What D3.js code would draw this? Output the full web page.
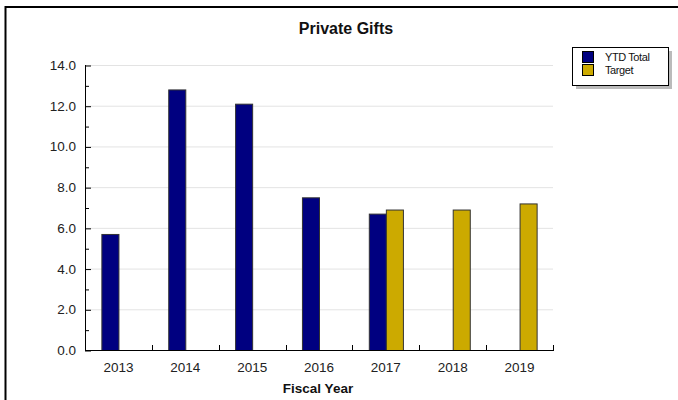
<!DOCTYPE html>
<html><head><meta charset="utf-8">
<script src="https://cdn.jsdelivr.net/npm/d3@7"></script>
<style>body{margin:0;background:#fff}svg{display:block}text{font-family:"Liberation Sans",Arial,sans-serif}</style>
</head><body><svg id="c" width="678" height="400"></svg>
<script>
const categories = ["2013","2014","2015","2016","2017","2018","2019"];
const seriesNames = ["YTD Total","Target"];
const ytdTotal = [5.7, 12.8, 12.1, 7.5, 6.7, null, null];
const target = [null, null, null, null, 6.9, 6.9, 7.2];
const yTicks = [0,2,4,6,8,10,12,14];
const colors = ["#000080","#ccaa00"];

const svg = d3.select("#c");
const m = {l:85, r:553, t:65, b:350};
// frame
svg.append("line").attr("x1",5.5).attr("x2",678).attr("y1",7).attr("y2",7).attr("stroke","#000").attr("stroke-width",2);
svg.append("line").attr("x1",5.5).attr("x2",5.5).attr("y1",6).attr("y2",400).attr("stroke","#000").attr("stroke-width",2);

const x = d3.scaleBand().domain(categories).range([m.l, m.r]);
const y = d3.scaleLinear().domain([0,14]).range([m.b, m.t]);
const sub = d3.scaleBand().domain(seriesNames).range([0, x.bandwidth()]).paddingOuter(0.96).paddingInner(0);

// gridlines
svg.append("g").selectAll("line").data(yTicks.filter(d=>d>0)).join("line")
  .attr("x1",m.l).attr("x2",m.r).attr("y1",d=>y(d)+0.5).attr("y2",d=>y(d)+0.5)
  .attr("stroke","#e3e3e3").attr("stroke-width",1);

// bars
const series = [ytdTotal, target];
series.forEach((vals,si)=>{
  svg.append("g").selectAll("rect").data(categories.map((c,i)=>({c,v:vals[i]})).filter(d=>d.v!=null)).join("rect")
    .attr("x",d=>x(d.c)+sub(seriesNames[si])+0.5)
    .attr("y",d=>y(d.v)+0.5)
    .attr("width",sub.bandwidth())
    .attr("height",d=>y(0)-y(d.v))
    .attr("fill",colors[si]).attr("stroke","#333").attr("stroke-width",1);
});

// y axis
const ya = svg.append("g").attr("transform",`translate(${m.l},0)`)
  .call(d3.axisRight(y).tickValues(yTicks).tickSize(6).tickFormat(""));
ya.select(".domain").remove();
ya.selectAll("line").attr("stroke","#000").attr("transform","translate(0,0.5)");
svg.append("g").attr("transform",`translate(${m.l},0)`)
  .call(d3.axisRight(y).tickValues(d3.range(1,14,2)).tickSize(4).tickFormat(""))
  .call(g=>g.select(".domain").remove())
  .selectAll("line").attr("stroke","#000").attr("transform","translate(0,0.5)");
svg.append("line").attr("x1",m.l+0.5).attr("x2",m.l+0.5).attr("y1",m.t).attr("y2",m.b+1).attr("stroke","#000");
svg.append("g").selectAll("text").data(yTicks).join("text")
  .attr("x",m.l-9).attr("y",d=>y(d)+5).attr("text-anchor","end")
  .attr("font-size",13.5).attr("fill","#222").text(d=>d.toFixed(1));

// x axis
svg.append("line").attr("x1",m.l).attr("x2",m.r+1).attr("y1",m.b+0.5).attr("y2",m.b+0.5).attr("stroke","#000");
const xa = svg.append("g").attr("transform",`translate(0,${m.b})`)
  .call(d3.axisBottom(x).tickSize(0).tickPadding(12));
xa.select(".domain").remove();
xa.selectAll("text").attr("font-size",13.5).attr("fill","#222").attr("font-family","'Liberation Sans',Arial,sans-serif");
svg.append("g").selectAll("line").data(categories).join("line")
  .attr("x1",d=>Math.round(x(d)+x.bandwidth())+0.5)
  .attr("x2",d=>Math.round(x(d)+x.bandwidth())+0.5)
  .attr("y1",m.b).attr("y2",m.b-5).attr("stroke","#000");

// titles
svg.append("text").attr("x",346).attr("y",34).attr("text-anchor","middle")
  .attr("font-size",16).attr("font-weight","bold").attr("fill","#111").text("Private Gifts");
svg.append("text").attr("x",318).attr("y",393).attr("text-anchor","middle")
  .attr("font-size",13.5).attr("font-weight","bold").attr("fill","#111").text("Fiscal Year");

// legend
const lg = svg.append("g").attr("transform","translate(572,47)");
lg.append("rect").attr("x",4).attr("y",4).attr("width",96).attr("height",38).attr("fill","#bbb");
lg.append("rect").attr("x",0.5).attr("y",0.5).attr("width",96).attr("height",38).attr("fill","#fff").attr("stroke","#000");
seriesNames.forEach((n,i)=>{
  lg.append("rect").attr("x",10.5).attr("y",4.5+i*13).attr("width",11).attr("height",11)
    .attr("fill",colors[i]).attr("stroke","#000");
  lg.append("text").attr("x",33).attr("y",14+i*13).attr("font-size",11).attr("fill","#111")
    .attr("letter-spacing","-0.4").text(n);
});
</script></body></html>
